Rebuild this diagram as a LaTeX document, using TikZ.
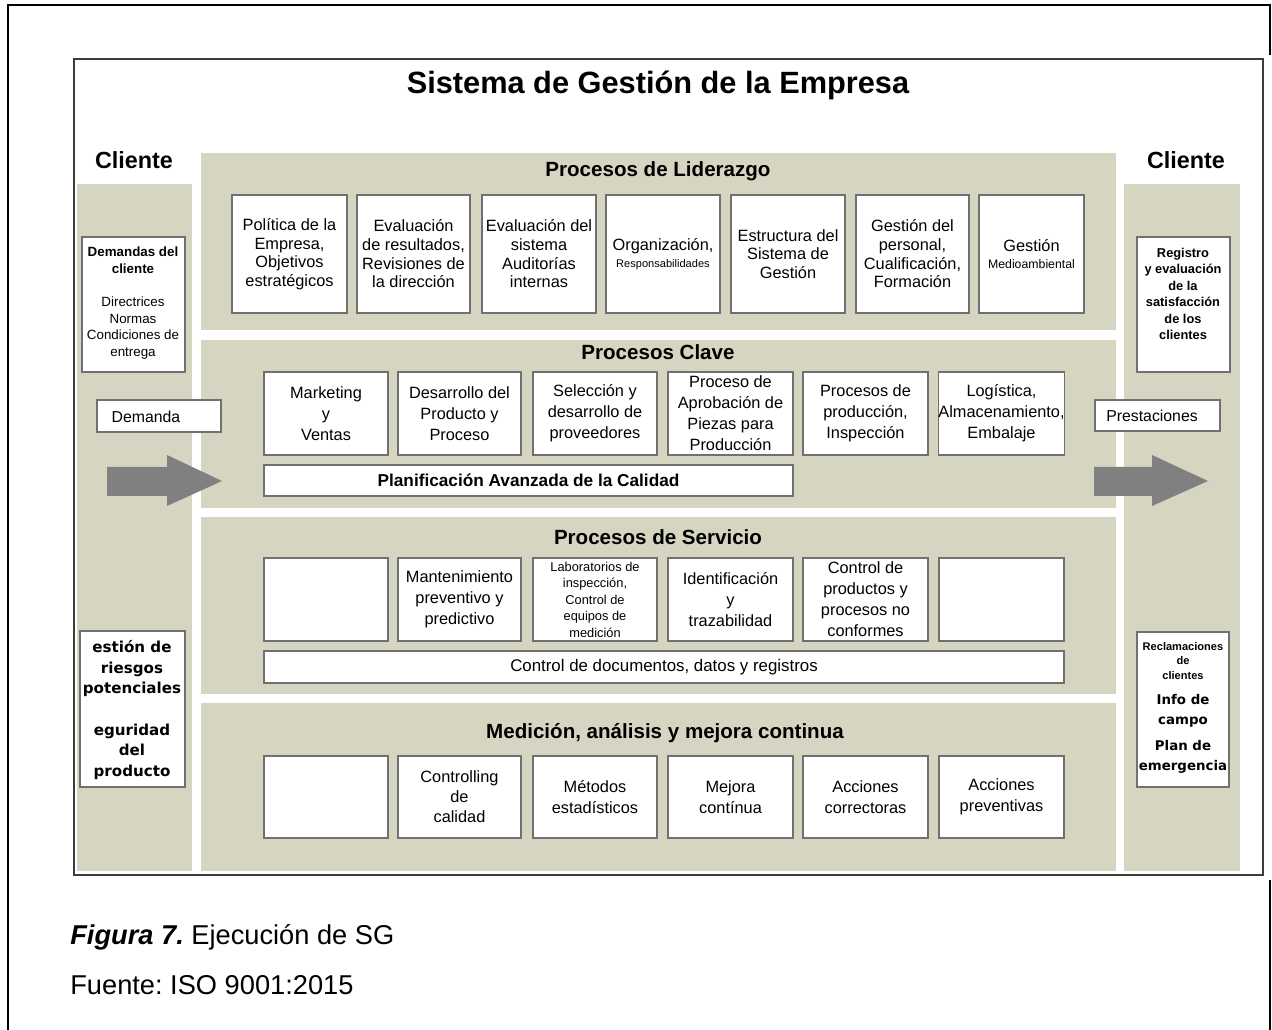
\documentclass[tikz,border=0pt]{standalone}
\usepackage{fontspec}
\setmainfont{Liberation Sans}
\newfontfamily\dvsans{DejaVu Sans}
\frenchspacing
\definecolor{beige}{RGB}{213,213,194}
\definecolor{framegray}{RGB}{60,60,60}
\definecolor{boxline}{RGB}{112,112,112}
\definecolor{arrowgray}{RGB}{128,128,128}
\newcommand\fsz[2]{\fontsize{#1}{#2}\selectfont}
% \procbox[options]{name}{x1}{y1}{x2}{y2}{text}: white process box between two corners
\newcommand\procbox[7][]{%
  \node[pbox,#1,minimum width={(#5-#3)*0.02cm},minimum height={(#6-#4)*0.02cm}]
    (#2) at ({(#3+#5)/2},{(#4+#6)/2}) {#7};}
\begin{document}
\begin{tikzpicture}[x=0.02cm,y=-0.02cm,
  pbox/.style={draw=boxline,fill=white,line width=0.6pt,inner sep=0pt,outer sep=0pt,
               align=center,font=\fsz{9.3}{10.6}},
  keytxt/.style={font=\fsz{9.3}{11.9}},
  band/.style={fill=beige},
  sectitle/.style={font=\bfseries\fsz{11.7}{14}},
  clientlbl/.style={font=\bfseries\fsz{13.3}{16}},
  flow/.style={fill=arrowgray},
  plain/.style={inner sep=0pt,align=center}]

\useasboundingbox (0,0) rectangle (1272,1030);

% page frame
\draw[black,line width=1.2pt] (8,1030) -- (8,5) -- (1270,5) -- (1270,55);
\draw[black,line width=1.2pt] (1270,880) -- (1270,1030);

% diagram frame
\draw[framegray,line width=1pt] (74,59) rectangle (1263,875);
\node[font=\bfseries\fsz{17.5}{20}] (title) at (658,85) {Sistema de Gestión de la Empresa};

% client columns
\node[clientlbl] (clientL) at (134,160) {Cliente};
\node[clientlbl] (clientR) at (1186,160) {Cliente};
\fill[band] (77,184) rectangle (192,871);
\fill[band] (1124,184) rectangle (1240,871);

% process bands
\fill[band] (201,153) rectangle (1116,330);
\fill[band] (201,340) rectangle (1116,508);
\fill[band] (201,517) rectangle (1116,694);
\fill[band] (201,703) rectangle (1116,871);

\node[sectitle] (tLid) at (658,171) {Procesos de Liderazgo};
\node[sectitle] (tClave) at (658,352) {Procesos Clave};
\node[sectitle] (tServ) at (658,537) {Procesos de Servicio};
\node[sectitle] (tMed) at (665,733) {Medición, análisis y mejora continua};

% leadership processes
\procbox{L1}{232}{195}{347}{313}{Política de la\\Empresa,\\Objetivos\\estratégicos}
\procbox{L2}{357}{195}{470}{313}{Evaluación\\de resultados,\\Revisiones de\\la dirección}
\procbox{L3}{482}{195}{596}{313}{Evaluación del\\sistema\\Auditorías\\internas}
\procbox{L4}{606}{195}{720}{313}{Organización,\\[-1pt]{\fsz{6.3}{8}Responsabilidades}}
\procbox{L5}{731}{195}{845}{313}{Estructura del\\Sistema de\\Gestión}
\procbox{L6}{856}{195}{969}{313}{Gestión del\\personal,\\Cualificación,\\Formación}
\procbox{L7}{979}{195}{1084}{313}{Gestión\\[-1pt]{\fsz{7}{8}Medioambiental}}

% key processes
\procbox[keytxt]{K1}{264}{372}{388}{455}{Marketing\\y\\Ventas}
\procbox[keytxt]{K2}{398}{372}{521}{455}{Desarrollo del\\Producto y\\Proceso}
\procbox[keytxt]{K3}{533}{372}{657}{455}{Selección y\\desarrollo de\\proveedores}
\procbox[keytxt]{K4}{668}{372}{793}{455}{Proceso de\\Aprobación de\\Piezas para\\Producción}
\procbox[keytxt]{K5}{803}{372}{928}{455}{Procesos de\\producción,\\Inspección}
\procbox[keytxt]{K6}{939}{372}{1064}{455}{Logística,\\Almacenamiento,\\Embalaje}
\procbox[font=\bfseries\fsz{9.8}{12}]{APQP}{264}{465}{793}{496}{Planificación Avanzada de la Calidad}

% service processes
\procbox[keytxt]{S1}{264}{558}{388}{641}{}
\procbox[keytxt]{S2}{398}{558}{521}{641}{Mantenimiento\\preventivo y\\predictivo}
\procbox[font=\fsz{7.3}{9.4}]{S3}{533}{558}{657}{641}{Laboratorios de\\inspección,\\Control de\\equipos de\\medición}
\procbox[keytxt]{S4}{668}{558}{793}{641}{Identificación\\y\\trazabilidad}
\procbox[keytxt]{S5}{803}{558}{928}{641}{Control de\\productos y\\procesos no\\conformes}
\procbox[keytxt]{S6}{939}{558}{1064}{641}{}
\procbox[font=\fsz{9.6}{12}]{Docs}{264}{651}{1064}{683}{Control de documentos, datos y registros}

% measurement and improvement
\procbox[keytxt]{M1}{264}{756}{388}{838}{}
\procbox[font=\fsz{9.3}{11.4}]{M2}{398}{756}{521}{838}{Controlling\\de\\calidad}
\procbox[keytxt]{M3}{533}{756}{657}{838}{Métodos\\estadísticos}
\procbox[keytxt]{M4}{668}{756}{793}{838}{Mejora\\contínua}
\procbox[keytxt]{M5}{803}{756}{928}{838}{Acciones\\correctoras}
\procbox[keytxt]{M6}{939}{756}{1064}{838}{Acciones\\preventivas}

% customer input side
\procbox{Dem}{82}{237}{185}{372}{}
\node[plain,font=\fsz{7.6}{9.4}] (DemTxt) at (133,303)
  {\textbf{Demandas del}\\\textbf{cliente}\\[9.5pt]Directrices\\Normas\\Condiciones de\\entrega};
\procbox{DemIn}{97}{400}{221}{432}{}
\node[plain,font=\fsz{9}{11}] (DemInTxt) at (146,417) {Demanda};
\fill[flow] (107,467) -- (167,467) -- (167,455) -- (222,481) -- (167,506) -- (167,496) -- (107,496) -- cycle;
\procbox{Risk}{80}{631}{185}{787}{}
\node[plain,font=\dvsans\bfseries\fsz{8.6}{11.7}] (RiskTxt) at (132,710)
  {estión de\\riesgos\\potenciales\\[11.7pt]eguridad\\del\\producto};

% customer output side
\procbox{Reg}{1137}{237}{1230}{372}{}
\node[plain,font=\bfseries\fsz{7.3}{9.4}] (RegTxt) at (1183,294)
  {Registro\\y evaluación\\de la\\satisfacción\\de los\\clientes};
\procbox{Prest}{1095}{400}{1220}{431}{}
\node[plain,font=\fsz{9}{11}] (PrestTxt) at (1152,416) {Prestaciones};
\fill[flow] (1094,467) -- (1152,467) -- (1152,455) -- (1208,481) -- (1152,506) -- (1152,496) -- (1094,496) -- cycle;
\procbox{Recl}{1137}{632}{1229}{787}{}
\node[plain,font=\bfseries\fsz{6.3}{8.2}] (ReclTxt) at (1183,661) {Reclamaciones\\de\\clientes};
\node[plain,font=\dvsans\bfseries\fsz{7.6}{11.3}] (InfoTxt) at (1183,734)
  {Info de\\campo\\[3.5pt]Plan de\\emergencia};

% caption
\node[anchor=west,inner sep=0pt,font=\fsz{15.5}{18}] (cap) at (70,937)
  {\textbf{\itshape Figura 7.} Ejecución de SG};
\node[anchor=west,inner sep=0pt,font=\fsz{15.5}{18}] (src) at (70,985) {Fuente: ISO 9001:2015};
\end{tikzpicture}
\end{document}
